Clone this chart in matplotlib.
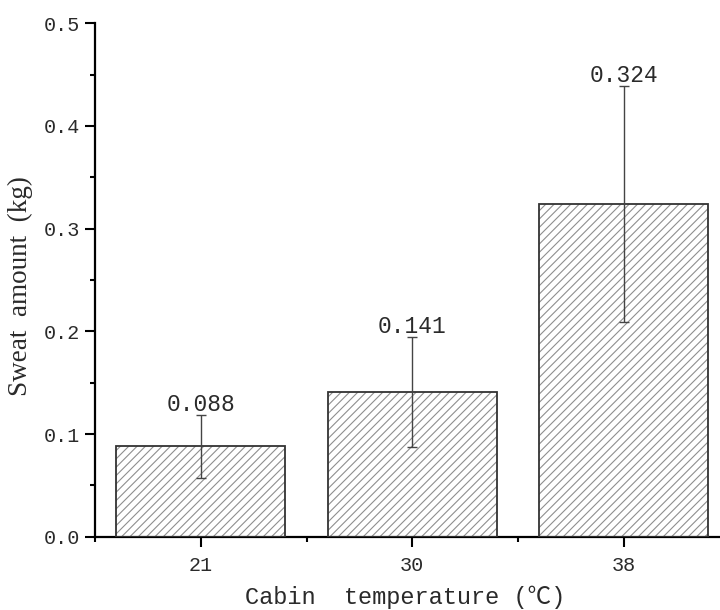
import matplotlib
matplotlib.use("Agg")
import matplotlib.pyplot as plt
from matplotlib.ticker import MultipleLocator, FixedLocator

categories = ["21", "30", "38"]
sweat = [0.088, 0.141, 0.324]
sweat_err = [0.031, 0.054, 0.115]
bar_labels = ["0.088", "0.141", "0.324"]
y_ticks = [0.0, 0.1, 0.2, 0.3, 0.4, 0.5]

mono = ["Liberation Mono", "Noto Sans CJK SC", "DejaVu Sans"]
serif = ["Liberation Serif", "DejaVu Serif"]
txt = "#2a2a2a"

plt.rcParams["hatch.linewidth"] = 0.8

fig = plt.figure(figsize=(7.2, 6.1), dpi=100)
W, H = 720, 610
x0, x1 = 95, 720
y0, y1 = 536.8, 23.3
ax = fig.add_axes([x0 / W, (H - y0) / H, (x1 - x0) / W, (y0 - y1) / H])

xs = list(range(len(categories)))
ax.bar(xs, sweat, width=0.8, color="white", edgecolor="#8f8f8f", hatch="////",
       linewidth=0, zorder=2)
ax.bar(xs, sweat, width=0.8, fill=False, edgecolor="#333333", linewidth=1.3, zorder=3)
ax.errorbar(xs, sweat, yerr=sweat_err, fmt="none", ecolor="#444444", elinewidth=1.0,
            capsize=3.6, capthick=1.0, zorder=4)

for x, v, e, lab in zip(xs, sweat, sweat_err, bar_labels):
    ax.annotate(lab, xy=(x, v + e), xytext=(0, 2.7), textcoords="offset points",
                ha="center", va="baseline", fontsize=16.5, family=mono, color=txt)

ax.set_xlim(-0.5, 2.5 - 9.5 / 211.5)
ax.set_ylim(0, 0.5)
ax.set_xticks(xs)
ax.set_xticklabels(categories)
ax.xaxis.set_minor_locator(FixedLocator([-0.5, 0.5, 1.5]))
ax.set_yticks(y_ticks)
ax.set_yticklabels([f"{t:.1f}" for t in y_ticks])
ax.yaxis.set_minor_locator(MultipleLocator(0.05))

for s in ["top", "right"]:
    ax.spines[s].set_visible(False)
for s in ["left", "bottom"]:
    ax.spines[s].set_linewidth(1.6)
    ax.spines[s].set_color("black")

ax.tick_params(which="major", direction="out", length=7, width=1.5, color="black")
ax.tick_params(which="minor", direction="out", length=3.6, width=1.5, color="black")
ax.tick_params(axis="x", which="major", pad=7)
ax.tick_params(axis="y", which="major", pad=4)
for lab in ax.get_xticklabels() + ax.get_yticklabels():
    lab.set_family(mono)
    lab.set_fontsize(14.5)
    lab.set_color(txt)

ax.set_xlabel("Cabin  temperature (℃)", family=mono, fontsize=17, color=txt)
ax.xaxis.set_label_coords((405 - x0) / (x1 - x0), (y0 - 597) / (y0 - y1))
ax.xaxis.label.set_verticalalignment("center")
ax.set_ylabel("Sweat  amount  (kg)", family=serif, fontsize=19.5, color=txt)
ax.yaxis.set_label_coords((20 - x0) / (x1 - x0), (y0 - 286) / (y0 - y1))
ax.yaxis.label.set_verticalalignment("center")
ax.yaxis.label.set_horizontalalignment("center")

fig.savefig("out.png", dpi=100)
